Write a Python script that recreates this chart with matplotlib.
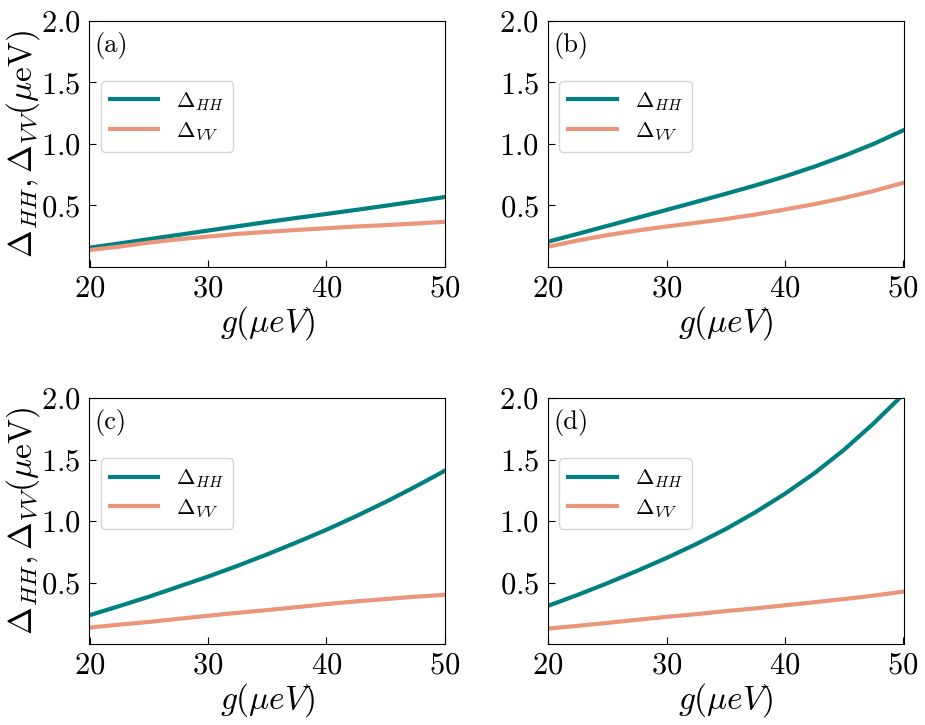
import matplotlib
matplotlib.use("Agg")
import matplotlib.pyplot as plt

plt.rcParams['font.family'] = 'serif'
plt.rcParams['font.serif'] = ['cmr10', 'DejaVu Serif']
plt.rcParams['mathtext.fontset'] = 'cm'
plt.rcParams['axes.formatter.use_mathtext'] = True

g = [20, 22.5, 25, 27.5, 30, 32.5, 35, 37.5, 40, 42.5, 45, 47.5, 50]
hh_a = [0.156, 0.19, 0.225, 0.26, 0.295, 0.33, 0.365, 0.398, 0.43, 0.463, 0.497, 0.532, 0.568]
vv_a = [0.137, 0.164, 0.197, 0.224, 0.246, 0.268, 0.284, 0.30, 0.314, 0.328, 0.339, 0.352, 0.366]
hh_b = [0.205, 0.268, 0.333, 0.398, 0.463, 0.528, 0.594, 0.662, 0.735, 0.815, 0.903, 1.0, 1.11]
vv_b = [0.164, 0.214, 0.258, 0.295, 0.328, 0.358, 0.389, 0.425, 0.466, 0.51, 0.56, 0.617, 0.683]
hh_c = [0.235, 0.309, 0.385, 0.467, 0.549, 0.637, 0.73, 0.828, 0.93, 1.04, 1.156, 1.28, 1.41]
vv_c = [0.134, 0.158, 0.18, 0.205, 0.23, 0.254, 0.276, 0.30, 0.325, 0.347, 0.366, 0.385, 0.40]
hh_d = [0.311, 0.40, 0.495, 0.595, 0.70, 0.813, 0.935, 1.072, 1.222, 1.39, 1.58, 1.795, 2.03]
vv_d = [0.126, 0.148, 0.172, 0.197, 0.221, 0.243, 0.268, 0.29, 0.315, 0.34, 0.366, 0.394, 0.426]

labels = ["(a)", "(b)", "(c)", "(d)"]
hh_series = [hh_a, hh_b, hh_c, hh_d]
vv_series = [vv_a, vv_b, vv_c, vv_d]

xticks = [20, 30, 40, 50]
yticks = [0.5, 1.0, 1.5, 2.0]

c_hh = '#008080'
c_vv = '#E9967A'

fig = plt.figure(figsize=(9.25, 7.25), dpi=100)
pos = [(0.0965, 0.632), (0.592, 0.632), (0.0965, 0.1117), (0.592, 0.1117)]
W, H = 0.385, 0.339

for i in range(4):
    ax = fig.add_axes([pos[i][0], pos[i][1], W, H])
    ax.plot(g, hh_series[i], color=c_hh, lw=3, label=r'$\Delta_{HH}$')
    ax.plot(g, vv_series[i], color=c_vv, lw=3, label=r'$\Delta_{VV}$')
    ax.set_xlim(19.95, 50.05)
    ax.set_ylim(0, 2.0)
    ax.set_xticks(xticks)
    ax.set_yticks(yticks)
    ax.tick_params(direction='in', length=5, labelsize=22, pad=6)
    ax.set_xlabel(r'$g(\mu eV)$', fontsize=24, labelpad=1)
    if i % 2 == 0:
        ax.set_ylabel(r'$\Delta_{HH},\Delta_{VV}(\mu\mathrm{eV})$', fontsize=24, labelpad=-1)
    ax.text(0.015, 0.955, labels[i], transform=ax.transAxes, fontsize=19, va='top', ha='left')
    ax.legend(loc='upper left', bbox_to_anchor=(0.032, 0.755), borderaxespad=0,
              fontsize=16, handlelength=2.2, labelspacing=0.35)

fig.savefig('out.png', dpi=100)
